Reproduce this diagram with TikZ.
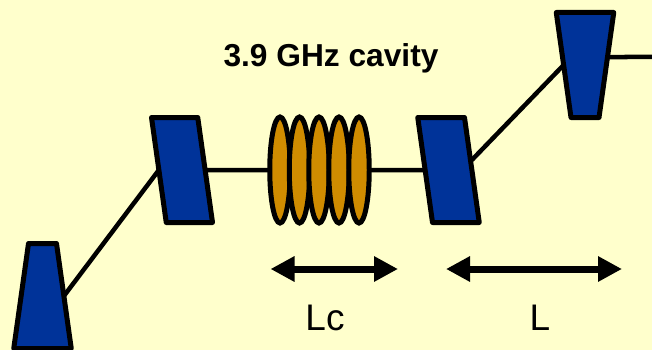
\documentclass[tikz,border=0pt]{standalone}
\usepackage{fontspec}
\setmainfont{Liberation Sans}
\usetikzlibrary{arrows.meta,shapes.geometric}
\definecolor{paper}{RGB}{255,255,204}
\definecolor{magblue}{RGB}{0,51,153}
\definecolor{cavorange}{RGB}{208,140,0}
\tikzset{
  magnet/.style={trapezium, draw, fill=magblue, line width=5pt, line join=round, inner sep=0pt, outer sep=0pt, text height=105pt, text depth=0pt},
  cell/.style={ellipse, draw, fill=cavorange, line width=5pt, inner sep=0pt, outer sep=0pt, minimum width=20.5pt, minimum height=106pt},
  beam/.style={line width=4.5pt},
  span/.style={line width=7pt, {Triangle[length=24pt,width=24pt]}-{Triangle[length=24pt,width=24pt]}}
}
\begin{document}
\begin{tikzpicture}[x=1pt, y=-1pt]

  % Background

  \useasboundingbox (0,0) rectangle (652,350);
  \fill[paper] (0,0) rectangle (652,350);

  % Dipoles

  \node[magnet, trapezium left angle=82, trapezium right angle=82, text width=28pt] (mag1) at (42.5,296) {};
  \node[magnet, trapezium left angle=98, trapezium right angle=82, text width=31.5pt] (mag2) at (182,170) {};
  \node[magnet, trapezium left angle=98, trapezium right angle=82, text width=32pt] (mag3) at (448.5,170) {};
  \node[magnet, trapezium left angle=82, trapezium right angle=82, text width=28pt, shape border rotate=180] (mag4) at (585,65) {};

  % Cavity

  \node[cell] (cav1) at (280,170) {};
  \node[cell] (cav2) at (299.5,170) {};
  \node[cell] (cav3) at (319,170) {};
  \node[cell] (cav4) at (339,170) {};
  \node[cell] (cav5) at (359,170) {};

  \node[font=\fontsize{31.7}{36}\selectfont\bfseries] (title) at (331,58) {3.9 GHz cavity};

  % Beam line

  \coordinate (out) at (652,57);
  \draw[beam] (mag1.east) -- (mag2.west);
  \draw[beam] (mag2.east) -- (cav1.west);
  \draw[beam] (cav5.east) -- (mag3.west);
  \draw[beam] ([yshift=10pt]mag3.east) -- (mag4.west);
  \draw[beam] ([yshift=8pt]mag4.east) -- (out);

  % Lengths

  \coordinate (lcl) at (270.5,269);
  \coordinate (lcr) at (398,269);
  \coordinate (ll) at (446,269);
  \coordinate (lr) at (622,269);
  \draw[span] (lcl) -- (lcr);
  \draw[span] (ll) -- (lr);

  \node[font=\fontsize{37}{42}\selectfont] (lclabel) at (325,318) {Lc};
  \node[font=\fontsize{37}{42}\selectfont] (llabel) at (540,318) {L};

\end{tikzpicture}
\end{document}
